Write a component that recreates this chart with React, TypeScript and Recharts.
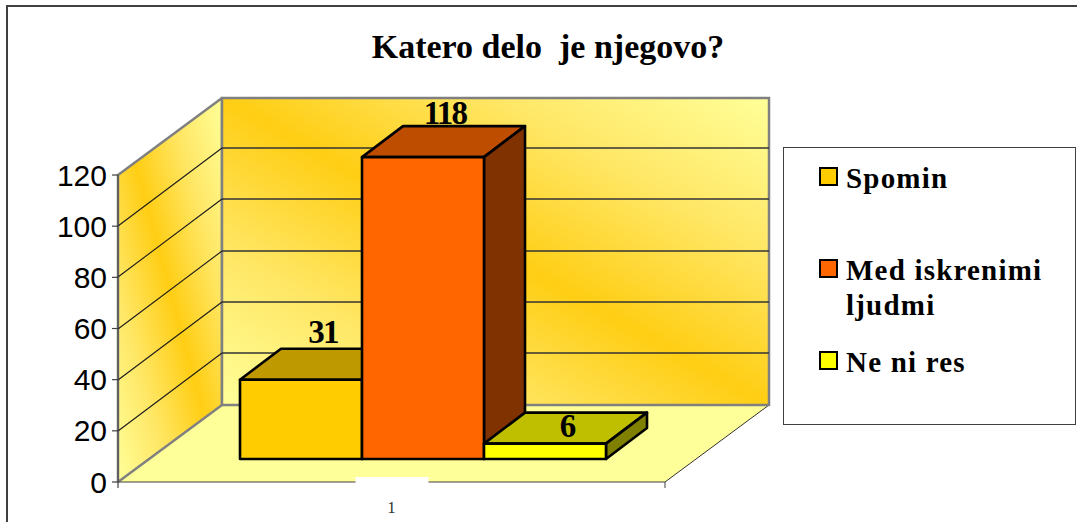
import React from 'react';
import { ComposedChart, Bar, XAxis, YAxis, CartesianGrid, Legend, LabelList, usePlotArea } from 'recharts';

const titleText = 'Katero delo  je njegovo?';
const categories = ['1'];
const seriesNames = ['Spomin', 'Med iskrenimi ljudmi', 'Ne ni res'];
const seriesValues = [31, 118, 6];
const seriesColors = ['#FFCC00', '#FF6600', '#FFFF00'];
const yTicks = [0, 20, 40, 60, 80, 100, 120];

const labelOffsets = [-48, -44, -18];
const legendTops = [13, 105, 197];

const rows = categories.map((category) => {
  const row: Record<string, string | number> = { category };
  seriesNames.forEach((name, i) => { row[name] = seriesValues[i]; });
  return row;
});

const WALL_DX = 104;
const WALL_DY = 77;
const GRID_DY = 78;
const BAR_DX = 41;
const BAR_DY = 31;
const FLOOR_DX = 31;
const FLOOR_DY = 23;
const SERIF = '"Liberation Serif", serif';
const GREY = '#808080';

function shade(hex: string, f: number) {
  const n = parseInt(hex.slice(1), 16);
  const c = [(n >> 16) & 255, (n >> 8) & 255, n & 255].map((v) => Math.round(v * f));
  return `rgb(${c[0]},${c[1]},${c[2]})`;
}

function Walls() {
  const p = usePlotArea();
  if (!p) return null;
  const l = p.x, r = p.x + p.width, t = p.y, b = p.y + p.height;
  const pts = (a: number[][]) => a.map((q) => q.join(',')).join(' ');
  return (
    <g>
      <defs>
        <linearGradient id="wallFill" x1="0" y1="1" x2="1" y2="0">
          <stop offset="0" stopColor="#FFFF99" />
          <stop offset="0.25" stopColor="#FFE766" />
          <stop offset="0.4" stopColor="#FFD836" />
          <stop offset="0.5" stopColor="#FFCE14" />
          <stop offset="0.6" stopColor="#FFD836" />
          <stop offset="0.75" stopColor="#FFE766" />
          <stop offset="1" stopColor="#FFFF99" />
        </linearGradient>
      </defs>
      <polygon
        points={pts([[l, b], [r, b], [r + WALL_DX, b - WALL_DY], [l + WALL_DX, b - WALL_DY]])}
        fill="#FFFF99"
      />
      <line x1={r} y1={b} x2={r + WALL_DX} y2={b - WALL_DY} stroke="#333" strokeWidth={1} />
      <line x1={l} y1={b} x2={l} y2={b + 6} stroke="#404040" strokeWidth={1.2} />
      <line x1={r} y1={b} x2={r} y2={b + 6} stroke="#606060" strokeWidth={1.2} />
      <polygon
        points={pts([[l, t], [l + WALL_DX, t - WALL_DY], [l + WALL_DX, b - WALL_DY], [l, b]])}
        fill="url(#wallFill)"
        stroke={GREY}
        strokeWidth={2.5}
        strokeLinejoin="round"
      />
      <rect
        x={l + WALL_DX}
        y={t - WALL_DY}
        width={r - l}
        height={b - t}
        fill="url(#wallFill)"
        stroke={GREY}
        strokeWidth={2.5}
      />
    </g>
  );
}

function GridLine(props: any) {
  const { x1, x2, y1 } = props;
  const y = Math.round(y1);
  if (Math.abs(y - 482) < 2 || Math.abs(y - 175) < 2) return <g />;
  return (
    <g>
      <line x1={x1} y1={y} x2={x1 + WALL_DX} y2={y - GRID_DY} stroke="#1a1a1a" strokeWidth={1.1} />
      <line x1={x1 + WALL_DX} y1={y - GRID_DY} x2={x2 + WALL_DX} y2={y - GRID_DY} stroke="#333" strokeWidth={1.3} />
    </g>
  );
}

function Box3D(props: any) {
  const { x, y, width, height, fill } = props;
  const x0 = x + FLOOR_DX, x1 = x0 + width;
  const y0 = y - FLOOR_DY, y1 = y0 + height;
  const line = { stroke: '#000', strokeWidth: 2.6, strokeLinejoin: 'round' as const };
  const poly = (a: number[][]) => a.map((q) => q.join(',')).join(' ');
  return (
    <g>
      <polygon
        points={poly([[x0, y0], [x0 + BAR_DX, y0 - BAR_DY], [x1 + BAR_DX, y0 - BAR_DY], [x1, y0]])}
        fill={shade(fill, 0.75)}
        {...line}
      />
      <polygon
        points={poly([[x1, y0], [x1 + BAR_DX, y0 - BAR_DY], [x1 + BAR_DX, y1 - BAR_DY], [x1, y1]])}
        fill={shade(fill, 0.5)}
        {...line}
      />
      <rect x={x0} y={y0} width={width} height={height} fill={fill} {...line} />
    </g>
  );
}

function makeLabel(i: number) {
  return function BarValue(props: any) {
    const { x, y, width, value } = props;
    return (
      <text
        x={x + width / 2 + FLOOR_DX + 22}
        y={y - FLOOR_DY + labelOffsets[i]}
        textAnchor="middle"
        dominantBaseline="central"
        fontFamily={SERIF}
        fontWeight={700}
        fontSize={33}
        letterSpacing={-1.8}
        fill="#000"
      >
        {value}
      </text>
    );
  };
}

function XTick(props: any) {
  const { x, y, payload } = props;
  return (
    <g>
      <rect x={x - 36} y={y - 13} width={73} height={13} fill="#fff" />
      <text x={x} y={y + 23} textAnchor="middle" fontFamily={SERIF} fontSize={17} fill="#333">
        {payload.value}
      </text>
    </g>
  );
}

function LegendBox(props: any) {
  const { payload } = props;
  return (
    <div style={{ position: 'relative', width: 293, height: 278, boxSizing: 'border-box', border: '1.5px solid #404040', background: '#fff' }}>
      {(payload || []).map((item: any, i: number) => (
        <div key={item.value} style={{ position: 'absolute', left: 35, top: legendTops[i], width: 240, display: 'flex', alignItems: 'flex-start' }}>
          <span style={{ display: 'block', flex: 'none', width: 15, height: 15, border: '2px solid #000', background: item.color, marginTop: 6, marginRight: 8 }} />
          <span style={{ fontFamily: SERIF, fontWeight: 700, fontSize: 29, lineHeight: '35px', letterSpacing: 1.2, color: '#000', width: 215 }}>
            {item.value}
          </span>
        </div>
      ))}
    </div>
  );
}

export default function App() {
  return (
    <div style={{ position: 'absolute', left: 0, top: 0, width: 1077, height: 522, overflow: 'hidden', background: '#fff' }}>
      <div style={{ position: 'absolute', left: 6, top: 5, right: -4, bottom: -4, borderTop: '2px solid #404040', borderLeft: '2px solid #404040' }} />
      <ComposedChart
        width={1077}
        height={522}
        data={rows}
        margin={{ top: 175, right: 412, bottom: 10, left: 58 }}
        barGap={0}
        barSize={122}
      >
        <Walls />
        <CartesianGrid
          zIndex={1}
          vertical={false}
          horizontal={(p: any) => <GridLine key={p.key ?? p.y1} {...p} />}
        />
        <XAxis
          dataKey="category"
          height={30}
          stroke="#404040"
          tickLine={false}
          tick={<XTick />}
        />
        <YAxis
          width={60}
          domain={[0, 120]}
          ticks={yTicks}
          interval={0}
          stroke="#404040"
          tickLine={{ stroke: '#404040', strokeWidth: 1.2 }}
          tickSize={6}
          tickMargin={5}
          tick={{ fontFamily: '"Liberation Sans", sans-serif', fontSize: 30, fill: '#000' }}
        />
        {seriesNames.map((name, i) => (
          <Bar key={name} dataKey={name} name={name} fill={seriesColors[i]} shape={<Box3D />} isAnimationActive={false}>
            <LabelList dataKey={name} content={makeLabel(i)} />
          </Bar>
        ))}
        <Legend
          layout="horizontal"
          verticalAlign="middle"
          itemSorter={null}
          content={<LegendBox />}
          wrapperStyle={{ left: 783, top: 147, width: 293, height: 278 }}
        />
        <text
          x={548}
          y={58}
          textAnchor="middle"
          fontFamily={SERIF}
          fontWeight={700}
          fontSize={34}
          fill="#000"
          style={{ whiteSpace: 'pre' }}
        >
          {titleText}
        </text>
      </ComposedChart>
    </div>
  );
}
